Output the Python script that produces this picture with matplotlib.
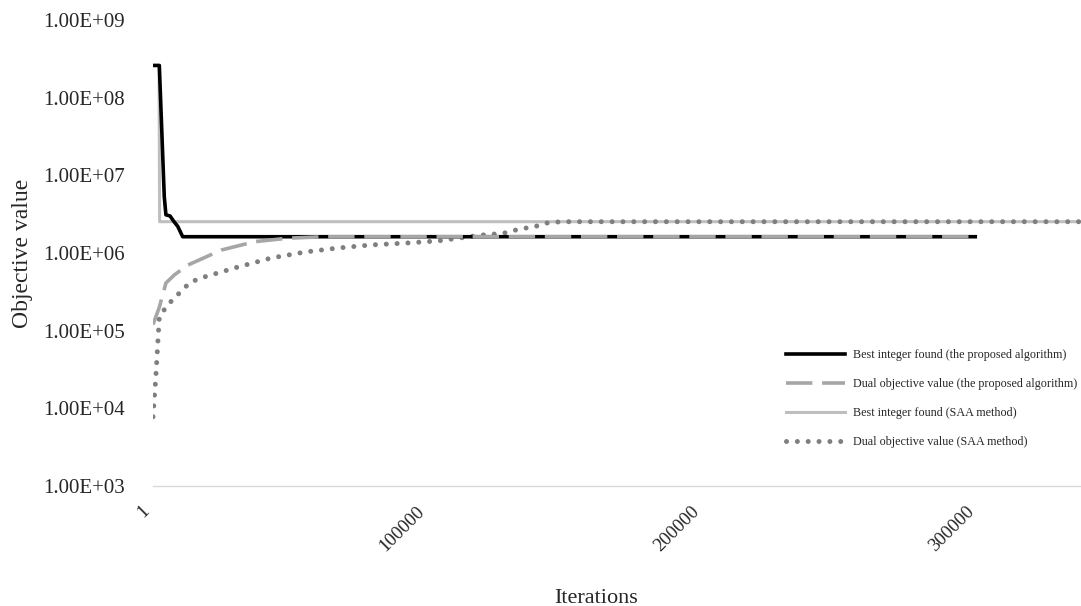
import matplotlib
matplotlib.use("Agg")
import matplotlib.pyplot as plt
from matplotlib.ticker import FixedLocator, FuncFormatter, NullLocator

plt.rcParams["font.family"] = ["Liberation Serif", "DejaVu Serif"]
plt.rcParams["lines.scale_dashes"] = False

TEXT = "#262626"

# Best integer found (the proposed algorithm)
best_prop_x = [1, 2300, 4100, 4700, 6200, 7400, 9000, 10800, 299000]
best_prop_y = [2.6e8, 2.6e8, 5.3e6, 3.1e6, 3.0e6, 2.6e6, 2.2e6, 1.62e6, 1.62e6]

# Dual objective value (the proposed algorithm)
dual_prop_x = [1, 2300, 4700, 7700, 12700, 24800, 37000, 49000, 62000, 299000]
dual_prop_y = [1.2e5, 2.0e5, 4.1e5, 5.2e5, 7.0e5, 1.09e6, 1.4e6, 1.55e6, 1.62e6, 1.62e6]

# Best integer found (SAA method)
best_saa_x = [1, 2200, 2400, 337000]
best_saa_y = [2.6e8, 2.6e8, 2.53e6, 2.53e6]

# Dual objective value (SAA method)
dual_saa_x = [1, 1100, 2300, 4700, 7100, 10200, 13200, 16800, 30900, 42900, 55300,
              67300, 79300, 91600, 103600, 115000, 119300, 127300, 130900, 135000,
              138800, 142400, 146000, 150000, 337000]
dual_saa_y = [7.8e3, 2.8e4, 1.5e5, 2.0e5, 2.5e5, 3.2e5, 4.1e5, 4.7e5, 6.6e5, 8.6e5, 1.03e6,
              1.16e6, 1.27e6, 1.34e6, 1.43e6, 1.62e6, 1.70e6, 1.79e6, 1.94e6, 2.08e6,
              2.18e6, 2.41e6, 2.5e6, 2.53e6, 2.53e6]

labels = [
    "Best integer found (the proposed algorithm)",
    "Dual objective value (the proposed algorithm)",
    "Best integer found (SAA method)",
    "Dual objective value (SAA method)",
]
x_ticks = [1, 100000, 200000, 300000]
y_ticks = [1e3, 1e4, 1e5, 1e6, 1e7, 1e8, 1e9]

fig = plt.figure(figsize=(10.81, 6.06), dpi=100)
ax = fig.add_axes([153 / 1081, 1 - 486 / 606, 928 / 1081, 466 / 606])

l_saa_best, = ax.plot(best_saa_x, best_saa_y, color="#bfbfbf", lw=2.2, zorder=2)
l_saa_dual, = ax.plot(dual_saa_x, dual_saa_y, color="#7f7f7f", lw=3.6,
                      linestyle=(0, (0.01, 7.8)), dash_capstyle="round", zorder=3)
l_best, = ax.plot(best_prop_x, best_prop_y, color="black", lw=2.6, zorder=4)
l_dual, = ax.plot(dual_prop_x, dual_prop_y, color="#a6a6a6", lw=2.6,
                  linestyle=(0, (19, 7)), zorder=5)

ax.set_yscale("log")
ax.set_ylim(1e3, 1e9)
ax.set_xlim(1, 337450)

ax.yaxis.set_major_locator(FixedLocator(y_ticks))
ax.yaxis.set_minor_locator(NullLocator())
ax.yaxis.set_major_formatter(FuncFormatter(lambda v, p: f"{v:.2E}"))
ax.xaxis.set_major_locator(FixedLocator(x_ticks))
ax.set_xticklabels([str(t) for t in x_ticks], rotation=45, ha="right", va="top",
                   rotation_mode="default")

ax.tick_params(axis="y", length=0, pad=20, labelsize=15, colors=TEXT)
ax.tick_params(axis="x", length=0, pad=12, labelsize=13.5, colors=TEXT)

for side in ["left", "right", "top"]:
    ax.spines[side].set_visible(False)
ax.spines["bottom"].set_color("#d9d9d9")
ax.spines["bottom"].set_linewidth(1.0)

ax.set_ylabel("Objective value", fontsize=17, color=TEXT)
ax.yaxis.set_label_coords(-0.129, 0.5)
ax.set_xlabel("Iterations", fontsize=16, color=TEXT)
ax.xaxis.set_label_coords(0.478, -0.22)

leg = ax.legend([l_best, l_dual, l_saa_best, l_saa_dual], labels,
                loc="upper left", bbox_to_anchor=(0.682, 0.293), frameon=False,
                fontsize=8.75, labelcolor=TEXT, handlelength=4.85, handletextpad=0.66,
                labelspacing=1.38, borderpad=0, borderaxespad=0)

fig.savefig("out.png", dpi=100)
